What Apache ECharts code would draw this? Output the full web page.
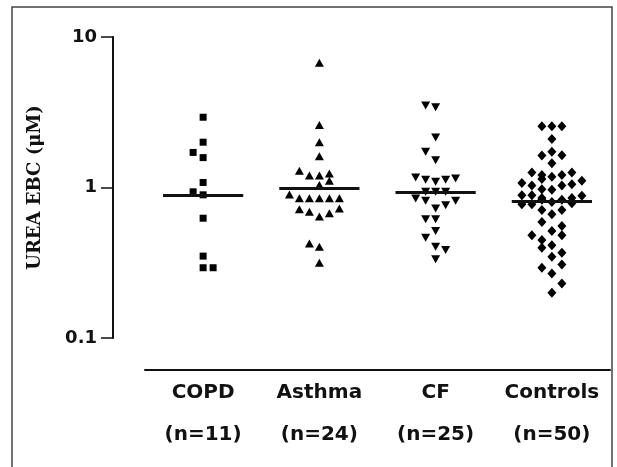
<!DOCTYPE html>
<html>
<head>
<meta charset="utf-8">
<script src="https://cdn.jsdelivr.net/npm/echarts@6/dist/echarts.min.js"></script>
<style>
html,body{margin:0;padding:0;background:#fff;}
#chart{width:617px;height:467px;}
</style>
</head>
<body>
<div id="chart"></div>
<script>
// ---- data ----
const categories = ['COPD', 'Asthma', 'CF', 'Controls'];
const nLabels = ['(n=11)', '(n=24)', '(n=25)', '(n=50)'];
const yTickLabels = ['0.1', '1', '10'];
const yAxisTitle = 'UREA EBC (\u03bcM)';

const copdValues = [2.93, 2.0, 1.71, 1.58, 1.08, 0.936, 0.894, 0.625, 0.35, 0.293, 0.293];
const copdSlots  = [0, 0, -1, 0, 0, -1, 0, 0, 0, 0, 1];

const asthmaValues = [6.74, 2.6, 2.0, 1.61, 1.29, 1.2, 1.2, 1.24, 1.11, 1.04, 0.90,
  0.849, 0.849, 0.849, 0.849, 0.849, 0.717, 0.689, 0.641, 0.674, 0.724, 0.425, 0.404, 0.316];
const asthmaSlots = [0, 0, 0, 0, -2, -1, 0, 1, 1, 0, -3,
  -2, -1, 0, 1, 2, -2, -1, 0, 1, 2, -1, 0, 0];

const cfValues = [3.5, 3.41, 2.15, 1.73, 1.52, 1.166, 1.125, 1.09, 1.125, 1.148,
  0.936, 0.936, 0.936, 0.845, 0.815, 0.724, 0.762, 0.815, 0.615, 0.615, 0.514, 0.464, 0.404, 0.384, 0.333];
const cfSlots = [-1, 0, 0, -1, 0, -2, -1, 0, 1, 2,
  -1, 0, 1, -2, -1, 0, 1, 2, -1, 0, 0, -1, 0, 1, 0];

const controlsValues = [2.55, 2.55, 2.55, 2.1, 1.63, 1.73, 1.64, 1.45,
  1.26, 1.21, 1.14, 1.18, 1.21, 1.26,
  1.07, 1.03, 0.975, 0.965, 1.03, 1.05, 1.11,
  0.889, 0.889, 0.774, 0.774, 0.828, 0.80, 0.828, 0.786, 0.88, 0.85, 0.85,
  0.71, 0.664, 0.71, 0.59, 0.555, 0.514, 0.481, 0.481, 0.448, 0.398, 0.413,
  0.347, 0.369, 0.308, 0.293, 0.268, 0.23, 0.20];
const controlsSlots = [-1, 0, 1, 0, -1, 0, 1, 0,
  -2, -1, -1, 0, 1, 2,
  -3, -2, -1, 0, 1, 2, 3,
  -3, -2, -3, -2, -1, 0, 1, 2, 3, -1, 2,
  -1, 0, 1, -1, 1, 0, -2, 1, -1, -1, 0,
  0, 1, 1, -1, 0, 1, 0];

const medians = [0.89, 0.985, 0.926, 0.815];

// ---- build ----
const SLOT = 0.086;      // horizontal spread step (category units)
const HALF = 0.345;      // half width of median bar (category units)
const groups = [
  {values: copdValues, slots: copdSlots, symbol: 'rect', size: 7, rotate: 0},
  {values: asthmaValues, slots: asthmaSlots, symbol: 'triangle', size: [9, 8], rotate: 0},
  {values: cfValues, slots: cfSlots, symbol: 'triangle', size: [9, 8], rotate: 180},
  {values: controlsValues, slots: controlsSlots, symbol: 'diamond', size: [9, 10], rotate: 0}
];

const series = groups.map((g, gi) => ({
  type: 'scatter',
  name: categories[gi],
  xAxisIndex: 1,
  yAxisIndex: 0,
  symbol: g.symbol,
  symbolSize: g.size,
  symbolRotate: g.rotate,
  itemStyle: {color: '#000', opacity: 1},
  data: g.values.map((v, k) => [gi + g.slots[k] * SLOT, v]),
  markLine: {
    silent: true,
    symbol: 'none',
    animation: false,
    label: {show: false},
    lineStyle: {color: '#111', width: 3, type: 'solid', opacity: 1},
    data: [[{coord: [gi - HALF, medians[gi]]}, {coord: [gi + HALF, medians[gi]]}]]
  }
}));

const chart = echarts.init(document.getElementById('chart'), null, {renderer: 'canvas'});
chart.setOption({
  animation: false,
  backgroundColor: '#fff',
  grid: {left: 145, right: 7, top: 37, bottom: 129, containLabel: false},
  xAxis: [
    {
      type: 'category',
      data: categories,
      position: 'bottom',
      offset: 32,
      boundaryGap: true,
      axisLine: {onZero: false, lineStyle: {color: '#111', width: 2}},
      axisTick: {alignWithLabel: true, length: 6, lineStyle: {color: '#111', width: 1.5}},
      axisLabel: {
        interval: 0,
        margin: 2,
        color: '#111',
        fontFamily: 'DejaVu Sans',
        fontWeight: 'bold',
        fontSize: 20,
        lineHeight: 42,
        formatter: (val, idx) => val + '\n' + nLabels[idx]
      },
      splitLine: {show: false}
    },
    {
      type: 'value',
      show: false,
      min: -0.5,
      max: 3.5,
      axisLine: {onZero: false},
      splitLine: {show: false}
    }
  ],
  yAxis: [{
    type: 'log',
    logBase: 10,
    min: 0.1,
    max: 10,
    position: 'left',
    offset: 32,
    name: yAxisTitle,
    nameLocation: 'middle',
    nameGap: 69,
    nameTextStyle: {fontFamily: 'DejaVu Serif', fontWeight: 'bold', fontSize: 18, color: '#111'},
    axisLine: {show: true, onZero: false, lineStyle: {color: '#111', width: 2}},
    axisTick: {show: true, length: 12, lineStyle: {color: '#111', width: 1.5}},
    minorTick: {show: false},
    axisLabel: {
      margin: 16,
      color: '#111',
      fontFamily: 'DejaVu Sans',
      fontWeight: 'bold',
      fontSize: 18,
      formatter: (v) => {
        const i = Math.round(Math.log10(v)) + 1;
        return yTickLabels[i] !== undefined ? yTickLabels[i] : '';
      }
    },
    splitLine: {show: false}
  }],
  graphic: [{
    type: 'rect',
    silent: true,
    shape: {x: 12, y: 7, width: 600, height: 480},
    style: {fill: 'none', stroke: '#444', lineWidth: 1.5}
  }],
  series: series
});
</script>
</body>
</html>
